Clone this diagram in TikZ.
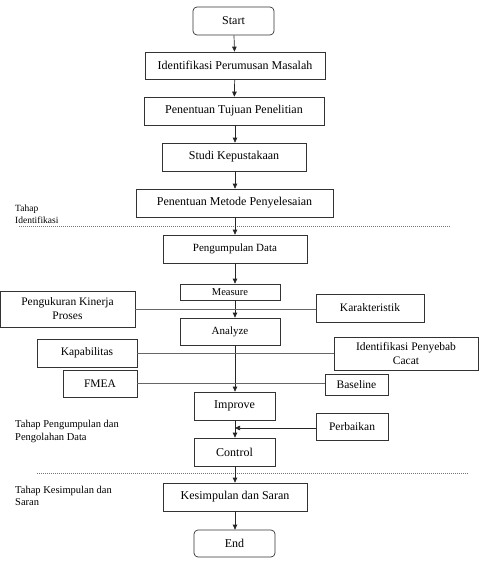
\documentclass[tikz,border=0pt]{standalone}
\usepackage{fontspec}
\setmainfont{Liberation Serif}
\usetikzlibrary{arrows.meta}

\begin{document}
\begin{tikzpicture}[x=1pt, y=-1pt,
    box/.style={draw=black!80, line width=0.7pt, inner sep=0pt, align=center,
      font=\fontsize{12}{14}\selectfont},
    rbox/.style={box, rounded corners=4pt},
    sidebox/.style={box, font=\fontsize{11.5}{14}\selectfont},
    arr/.style={draw=black!85, line width=0.7pt, -{Triangle[length=5pt,width=4.5pt]}},
    link/.style={draw=black!60, line width=0.6pt},
    sep/.style={draw=black!55, line width=0.5pt, dash pattern=on 1pt off 1pt},
    tahap/.style={anchor=west, align=left, inner sep=0pt}]

  \useasboundingbox (0,0) rectangle (480,567);

  % Main flow
  \node[rbox, minimum width=81pt, minimum height=28pt]  (start)   at (233.5,21)  {Start};
  \node[box, minimum width=180pt, minimum height=27pt]  (idf)     at (235,65.5)  {Identifikasi Perumusan Masalah};
  \node[box, minimum width=180pt, minimum height=28pt]  (tujuan)  at (234,111)   {Penentuan Tujuan Penelitian};
  \node[box, minimum width=144pt, minimum height=28pt]  (studi)   at (234,157)   {Studi Kepustakaan};
  \node[box, minimum width=197pt, minimum height=28pt]  (metode)  at (234.5,203) {Penentuan Metode Penyelesaian};
  \node[box, minimum width=144pt, minimum height=28pt,
    font=\fontsize{11}{13}\selectfont]                  (kumpul)  at (235,249)   {Pengumpulan Data};
  \node[box, minimum width=100pt, minimum height=16pt,
    font=\fontsize{10.5}{12}\selectfont]                (measure) at (230,292)   {Measure};
  \node[box, minimum width=100pt, minimum height=27pt,
    font=\fontsize{11}{13}\selectfont]                  (analyze) at (230,331.5) {Analyze};
  \node[box, minimum width=81pt, minimum height=28pt]   (improve) at (234.5,406) {Improve};
  \node[box, minimum width=81pt, minimum height=28pt]   (control) at (234.5,452) {Control};
  \node[box, minimum width=144pt, minimum height=28pt]  (simpul)  at (235,497)   {Kesimpulan dan Saran};
  \node[rbox, minimum width=81pt, minimum height=27pt]  (end)     at (234.5,543.5) {End};

  % Side boxes
  \node[sidebox, minimum width=135pt, minimum height=36pt] (kinerja)   at (67.5,309)  {Pengukuran Kinerja\\Proses};
  \node[sidebox, minimum width=108pt, minimum height=28pt] (karak)     at (370,308)   {Karakteristik};
  \node[sidebox, minimum width=100pt, minimum height=28pt] (kapab)     at (87,353)    {Kapabilitas};
  \node[sidebox, minimum width=144pt, minimum height=33pt] (penyebab)  at (406,353.5) {Identifikasi Penyebab\\Cacat};
  \node[sidebox, minimum width=74pt, minimum height=27pt]  (fmea)      at (100,383.5) {FMEA};
  \node[sidebox, minimum width=63pt, minimum height=21pt]  (baseline)  at (356.5,384.5) {Baseline};
  \node[sidebox, minimum width=72pt, minimum height=27pt]  (perbaikan) at (352,426.5) {Perbaikan};

  % Stage labels
  \node[tahap, font=\fontsize{9.5}{12}\selectfont] (tidf)    at (15,214)   {Tahap\\Identifikasi};
  \node[tahap, font=\fontsize{10.5}{13}\selectfont] (tolah)  at (15,431.5) {Tahap Pengumpulan dan\\Pengolahan Data};
  \node[tahap, font=\fontsize{10.5}{12.5}\selectfont] (tsimp) at (15,496)  {Tahap Kesimpulan dan\\Saran};

  % Separators
  \draw[sep] (19,226) -- (450,226);
  \draw[sep] (37,473) -- (468,473);

  % Arrows
  \draw[arr] (start) -- (idf);
  \draw[arr] (idf) -- (tujuan);
  \draw[arr] (tujuan.south -| idf) -- (studi.north -| idf);
  \draw[arr] (studi.south -| idf) -- (metode.north -| idf);
  \draw[arr] (metode.south -| idf) -- (kumpul.north -| idf);
  \draw[arr] (kumpul) -- (measure.north -| kumpul);
  \draw[arr] (measure.south -| kumpul) -- (analyze.north -| kumpul);
  \draw[arr] (analyze.south -| kumpul) -- (improve.north -| kumpul);
  \draw[arr] (improve.south -| kumpul) -- (control.north -| kumpul);
  \draw[arr] (control.south -| kumpul) -- (simpul.north -| kumpul);
  \draw[arr] (simpul.south -| kumpul) -- (end.north -| kumpul);
  \draw[arr] (perbaikan.west |- 0,428) -- (kumpul |- 0,428);

  % Side links
  \draw[link] (kinerja.east) -- (kinerja.east -| karak.west);
  \draw[link] (kapab.east) -- (kapab.east -| penyebab.west);
  \draw[link] (fmea.east) -- (fmea.east -| baseline.west);
\end{tikzpicture}
\end{document}
